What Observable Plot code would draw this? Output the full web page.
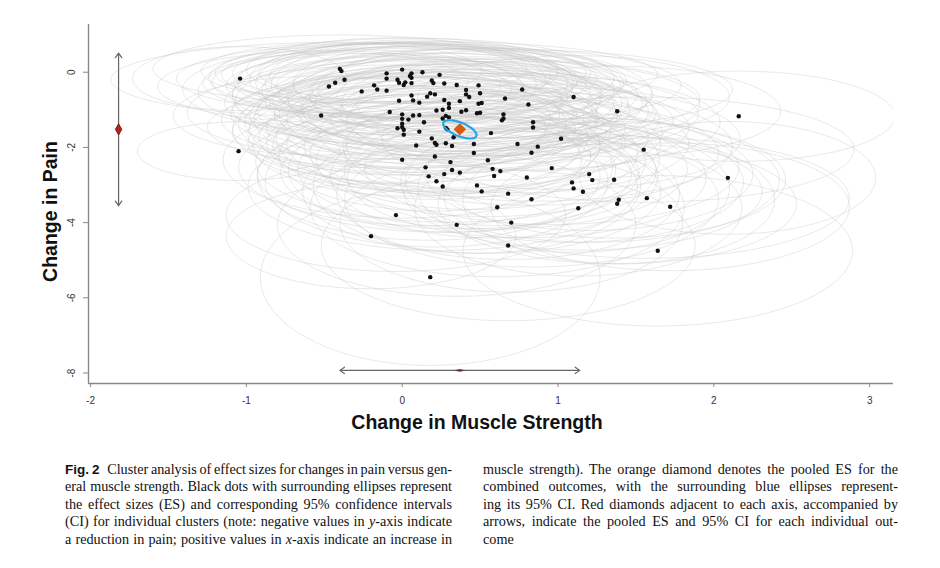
<!DOCTYPE html>
<html><head><meta charset="utf-8">
<script src="https://cdn.jsdelivr.net/npm/d3@7"></script>
<script src="https://cdn.jsdelivr.net/npm/@observablehq/plot@0.6"></script>
<style>
body{margin:0;background:#fff;width:940px;height:568px;position:relative;overflow:hidden;font-family:"Liberation Sans",Arial,sans-serif}
#chart{position:absolute;left:0;top:0}
.cap{position:absolute;top:460.5px;font-family:"Liberation Serif","Times New Roman","DejaVu Serif",serif;font-size:14.2px;line-height:17.6px;color:#111;word-spacing:-1px}
.cap div{text-align:justify;text-align-last:justify}
.cap div.last{text-align-last:left}
.fig{font-family:"Liberation Sans",Arial,sans-serif;font-weight:bold;font-size:13.5px;margin-right:5px}
</style></head>
<body>
<div id="chart"></div>
<div class="cap" style="left:65px;width:387px">
<div><span class="fig">Fig. 2</span> Cluster analysis of effect sizes for changes in pain versus gen-</div>
<div>eral muscle strength. Black dots with surrounding ellipses represent</div>
<div>the effect sizes (ES) and corresponding 95% confidence intervals</div>
<div>(CI) for individual clusters (note: negative values in <i>y</i>-axis indicate</div>
<div>a reduction in pain; positive values in <i>x</i>-axis indicate an increase in</div>
</div>
<div class="cap" style="left:483px;width:415px">
<div>muscle strength). The orange diamond denotes the pooled ES for the</div>
<div>combined outcomes, with the surrounding blue ellipses represent-</div>
<div>ing its 95% CI. Red diamonds adjacent to each axis, accompanied by</div>
<div>arrows, indicate the pooled ES and 95% CI for each individual out-</div>
<div class="last">come</div>
</div>
<script>
// Individual cluster effect sizes (x: muscle strength, y: pain)
const esX = [-1.04,-1.05,-0.52,-0.47,-0.43,-0.40,-0.39,-0.37,-0.26,-0.18,-0.16,-0.10,-0.10,-0.10,0.00,0.06,0.05,0.06,0.13,0.24,
-0.03,-0.02,0.01,0.02,0.06,0.19,0.20,0.27,0.35,0.49,0.41,0.41,0.50,0.43,0.77,1.10,0.06,0.07,0.11,-0.02,
0.16,0.18,0.21,0.27,0.30,0.30,0.37,0.49,0.51,0.66,0.81,1.38,-0.08,0.00,0.00,0.04,0.07,0.11,0.22,0.26,
0.26,0.28,0.30,0.38,0.41,0.48,0.50,0.65,0.65,0.64,0.84,0.84,0.14,0.00,0.00,-0.03,0.01,0.11,0.01,0.28,
0.29,0.33,0.57,0.19,0.21,0.22,0.28,0.32,0.46,0.74,0.87,1.02,0.46,0.83,0.00,0.21,0.31,0.55,0.15,0.32,
0.37,0.58,0.63,0.17,0.27,0.59,0.80,0.96,0.22,0.26,0.48,0.51,0.68,0.83,1.09,1.10,1.16,1.20,1.22,1.36,
1.39,1.38,1.13,0.61,-0.04,0.35,0.70,-0.20,0.68,0.18,2.16,1.55,2.09,1.57,1.72,1.64,0.09];
const esY = [-0.17,-2.10,-1.15,-0.38,-0.28,0.09,0.03,-0.20,-0.51,-0.35,-0.46,-0.49,-0.03,-0.17,0.07,-0.03,-0.10,-0.15,0.00,-0.07,
-0.20,-0.28,-0.34,-0.27,-0.29,-0.22,-0.29,-0.30,-0.34,-0.35,-0.47,-0.59,-0.56,-0.66,-0.46,-0.66,-0.62,-0.75,-0.81,-0.76,
-0.65,-0.56,-0.59,-0.74,-0.84,-0.95,-0.77,-0.84,-0.82,-0.70,-0.86,-1.04,-1.06,-1.12,-1.24,-1.26,-1.15,-1.14,-1.02,-1.00,
-1.23,-1.16,-1.20,-1.05,-1.01,-1.09,-1.08,-1.12,-1.23,-1.28,-1.33,-1.47,-1.33,-1.37,-1.46,-1.49,-1.53,-1.58,-1.66,-1.48,
-1.52,-1.73,-1.62,-1.76,-1.88,-1.93,-1.89,-1.96,-1.91,-1.91,-1.98,-1.77,-2.15,-2.14,-2.33,-2.24,-2.39,-2.34,-2.53,-2.60,
-2.67,-2.57,-2.63,-2.77,-2.71,-2.76,-2.80,-2.55,-2.90,-3.04,-3.01,-3.17,-3.23,-3.38,-2.93,-3.09,-3.18,-2.71,-2.87,-2.86,
-3.39,-3.50,-3.62,-3.59,-3.80,-4.06,-4.00,-4.36,-4.61,-5.45,-1.17,-2.06,-2.81,-3.35,-3.58,-4.75,-1.95];
// Half-widths of the 95% CI for each cluster (estimated from the ellipses)
const ciX = [0.69,0.65,0.95,1.10,0.85,1.20,0.90,1.50,1.05,0.95,1.25,0.80,1.10,1.35,1.00,1.15,0.90,1.30,1.05,1.40,
0.95,1.20,0.85,1.10,1.00,1.25,0.90,1.15,1.05,1.30,0.95,1.20,1.10,0.85,1.35,1.00,1.15,0.95,1.25,1.05,
0.90,1.10,1.30,1.00,1.15,0.95,1.20,1.05,0.90,1.25,1.10,1.05,1.30,1.10,0.95,1.20,1.05,0.90,1.15,1.35,
1.00,1.10,0.95,1.20,1.05,1.15,0.90,1.25,1.00,1.10,1.20,1.00,1.15,1.05,1.25,0.95,1.10,1.20,1.00,1.15,
1.05,1.25,1.10,1.00,1.20,1.05,1.15,0.95,1.20,1.10,1.25,1.15,1.05,1.20,1.15,1.00,1.25,1.10,1.20,1.05,
1.15,1.25,1.00,1.10,1.20,1.05,1.15,1.20,1.10,1.25,1.05,1.15,1.10,1.20,1.10,1.00,1.15,1.05,1.20,1.10,
1.00,1.15,1.05,1.20,1.09,1.15,1.10,0.93,1.20,1.09,1.00,1.35,0.95,1.30,1.15,1.25,1.05];
const ciY = [0.85,0.78,1.05,0.95,0.80,0.90,0.75,1.00,1.10,0.85,1.20,0.90,0.80,0.95,0.85,0.80,0.90,1.05,0.82,0.88,
1.00,0.95,1.10,0.90,1.15,0.92,1.00,1.05,0.95,1.00,1.10,1.00,1.20,0.95,1.05,1.10,1.30,1.05,1.15,1.20,
1.00,0.95,1.10,1.25,1.05,1.15,1.00,1.20,1.10,1.05,1.15,1.20,1.25,1.10,1.30,1.15,1.05,1.20,1.10,1.00,
1.25,1.15,1.05,1.20,1.10,1.00,1.15,1.10,1.20,1.05,1.25,1.15,1.20,1.30,1.10,1.25,1.40,1.15,1.30,1.20,
1.10,1.35,1.25,1.40,1.30,1.45,1.35,1.25,1.40,1.30,1.45,1.35,1.50,1.40,1.55,1.45,1.60,1.50,1.55,1.65,
1.50,1.60,1.45,1.70,1.55,1.65,1.60,1.50,1.75,1.70,1.80,1.65,1.75,1.80,1.60,1.70,1.55,1.50,1.65,1.55,
1.70,1.60,1.80,1.85,1.50,1.90,1.85,1.40,2.00,2.35,1.20,1.40,1.50,1.60,1.70,2.00,1.35];
// Pooled ES for the combined outcomes and its 95% CI ellipse
const pooledX = 0.37, pooledY = -1.52;
const pooledSdX = 0.107, pooledSdY = 0.243, pooledRho = -0.62;
// Pooled ES and 95% CI for each single outcome (drawn beside each axis)
const painES = -1.52, painLo = -3.55, painHi = 0.51, painAtX = -1.82;
const strengthES = 0.37, strengthLo = -0.40, strengthHi = 1.14, strengthAtY = -7.93;
// Axes
const xDomain = [-2.013, 3.153], yDomain = [-8.279, 1.269];
const xTicks = [-2, -1, 0, 1, 2, 3];
const yTicks = [0, -2, -4, -6, -8];
const xLabel = "Change in Muscle Strength", yLabel = "Change in Pain";

const pts = esX.map((x, i) => ({x, y: esY[i]}));
const N = 90;
const ell = [];
esX.forEach((cx, i) => {
  for (let k = 0; k <= N; k++) {
    const t = 2 * Math.PI * k / N;
    ell.push({id: i, x: cx + ciX[i] * Math.cos(t), y: esY[i] + ciY[i] * Math.sin(t)});
  }
});
const blue = [];
for (let k = 0; k <= N; k++) {
  const t = 2 * Math.PI * k / N;
  blue.push({x: pooledX + pooledSdX * Math.cos(t),
             y: pooledY + pooledSdY * (pooledRho * Math.cos(t) + Math.sqrt(1 - pooledRho * pooledRho) * Math.sin(t))});
}
const flatDiamond = {draw(ctx, size) { const s = Math.sqrt(size); ctx.moveTo(-s, 0); ctx.lineTo(0, -s * 0.22); ctx.lineTo(s, 0); ctx.lineTo(0, s * 0.22); ctx.closePath(); }};
const arrY = [{x1: painAtX, y1: painES, x2: painAtX, y2: painHi}, {x1: painAtX, y1: painES, x2: painAtX, y2: painLo}];
const arrX = [{x1: strengthES, y1: strengthAtY, x2: strengthHi, y2: strengthAtY}, {x1: strengthES, y1: strengthAtY, x2: strengthLo, y2: strengthAtY}];

const chart = Plot.plot({
  width: 940, height: 440,
  marginLeft: 88, marginRight: 47, marginTop: 24, marginBottom: 57,
  x: {domain: xDomain}, y: {domain: yDomain},
  style: {fontFamily: "Liberation Sans, Arial, sans-serif", background: "#fff"},
  marks: [
    Plot.line(ell, {x: "x", y: "y", z: "id", stroke: "#c4c4c4", strokeOpacity: 0.38, strokeWidth: 1, clip: true}),
    Plot.ruleY([yDomain[0]], {stroke: "#888", strokeWidth: 1.4}),
    Plot.ruleX([xDomain[0]], {stroke: "#888", strokeWidth: 1.4}),
    Plot.axisX({ticks: xTicks, tickSize: 4, tickPadding: 9, stroke: "#888", fill: "#333", fontSize: 10, label: null, tickFormat: d => String(d)}),
    Plot.axisY({ticks: yTicks, tickSize: 5, tickPadding: 9, tickRotate: -90, stroke: "#888", fill: "#333", fontSize: 10, label: null, tickFormat: d => String(d)}),
    Plot.dot(pts, {x: "x", y: "y", r: 2.2, fill: "#111", stroke: null}),
    Plot.line(blue, {x: "x", y: "y", stroke: "#1ea8e6", strokeWidth: 2.2}),
    Plot.dot([{x: pooledX, y: pooledY}], {x: "x", y: "y", symbol: "diamond2", r: 5.6, fill: "#d9590f", stroke: null}),
    Plot.arrow(arrY, {x1: "x1", y1: "y1", x2: "x2", y2: "y2", stroke: "#666", strokeWidth: 1.2, headLength: 7, headAngle: 70}),
    Plot.arrow(arrX, {x1: "x1", y1: "y1", x2: "x2", y2: "y2", stroke: "#666", strokeWidth: 1.2, headLength: 7, headAngle: 70}),
    Plot.dot([{x: painAtX, y: painES}], {x: "x", y: "y", symbol: "diamond", r: 3.4, fill: "#b8231c", stroke: "#5a0f0a", strokeWidth: 0.8}),
    Plot.dot([{x: strengthES, y: strengthAtY}], {x: "x", y: "y", symbol: flatDiamond, r: 3.4, fill: "#5a3a36", stroke: null}),
    Plot.text([xLabel], {text: d => d, frameAnchor: "bottom", lineAnchor: "middle", textAnchor: "middle", dy: 39, dx: -14, fontSize: 19.5, fontWeight: "bold", fill: "#111"}),
    Plot.text([yLabel], {text: d => d, frameAnchor: "left", lineAnchor: "middle", textAnchor: "middle", rotate: -90, dx: -38, dy: 7.5, fontSize: 19.5, fontWeight: "bold", fill: "#111"})
  ]
});
document.getElementById("chart").append(chart);
</script>
</body></html>
